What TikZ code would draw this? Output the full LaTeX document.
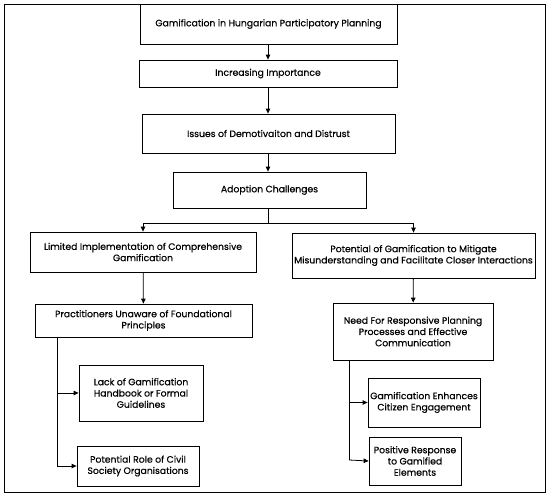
\documentclass[tikz,border=0pt]{standalone}
\usepackage{fontspec}
\setmainfont{Poppins}[FakeBold=0.5]
\newfontfamily\boxfont{Poppins}[FakeBold=0.5]
\usetikzlibrary{arrows.meta}
\begin{document}
\begin{tikzpicture}[x=1bp,y=-1bp,
  box/.style={draw,line width=0.8pt,align=center,inner sep=0pt,font=\boxfont\fontsize{9.3}{11.3}\selectfont},
  conn/.style={line width=0.8pt,-{Triangle[length=5pt,width=4.5pt]}},
  plain/.style={line width=0.8pt}]
\useasboundingbox (0,0) rectangle (550,497);
\draw[line width=0.8pt] (4,4) rectangle (545,492);
\node[box,minimum width=257bp,minimum height=40bp] (b1) at (268.5,24) {Gamification in Hungarian Participatory Planning};
\node[box,minimum width=258bp,minimum height=27bp] (b2) at (268,73.5) {Increasing Importance};
\node[box,minimum width=253bp,minimum height=39bp] (b3) at (268.5,133.5) {Issues of Demotivaiton and Distrust};
\node[box,minimum width=193bp,minimum height=36bp] (b4) at (269.5,190) {Adoption Challenges};
\node[box,minimum width=226bp,minimum height=40bp] (b5) at (143,252) {Limited Implementation of Comprehensive\\Gamification};
\node[box,minimum width=243bp,minimum height=45bp] (b6) at (413.5,255.5) {Potential of Gamification to Mitigate\\Misunderstanding and Facilitate Closer Interactions};
\node[box,minimum width=217bp,minimum height=33bp] (b7) at (143.5,320.5) {Practitioners Unaware of Foundational\\Principles};
\node[box,minimum width=160bp,minimum height=57bp] (b8) at (413,331.5) {Need For Responsive Planning\\Processes and Effective\\Communication};
\node[box,minimum width=124bp,minimum height=56bp] (b9) at (141,393) {Lack of Gamification\\Handbook or Formal\\Guidelines};
\node[box,minimum width=122bp,minimum height=40bp] (b10) at (138,466) {Potential Role of Civil\\Society Organisations};
\node[box,minimum width=112bp,minimum height=49bp] (b11) at (424,402.5) {Gamification Enhances\\Citizen Engagement};
\node[box,minimum width=92bp,minimum height=48bp] (b12) at (415,461) {Positive Response\\to Gamified\\Elements};
\coordinate (j) at (268,223);
\coordinate (lv) at (57,466);
\coordinate (rv) at (349,460);
\draw[conn] (b1.south -| j) -- (b2.north -| j);
\draw[conn] (b2.south -| j) -- (b3.north -| j);
\draw[conn] (b3.south -| j) -- (b4.north -| j);
\draw[plain] (b4.south -| j) -- (j);
\draw[conn] (j) -| (b5.north);
\draw[conn] (j) -| (b6.north);
\draw[conn] (b5) -- (b7);
\draw[conn] (b6) -- (b8);
\draw[plain] (b7.south -| lv) -- (lv);
\draw[conn] (b9.west -| lv) -- (b9.west);
\draw[conn] (lv) -- (b10.west);
\draw[plain] (b8.south -| rv) -- (rv);
\draw[conn] (b11.west -| rv) -- (b11.west);
\draw[conn] (rv) -- (b12.west);
\end{tikzpicture}
\end{document}
